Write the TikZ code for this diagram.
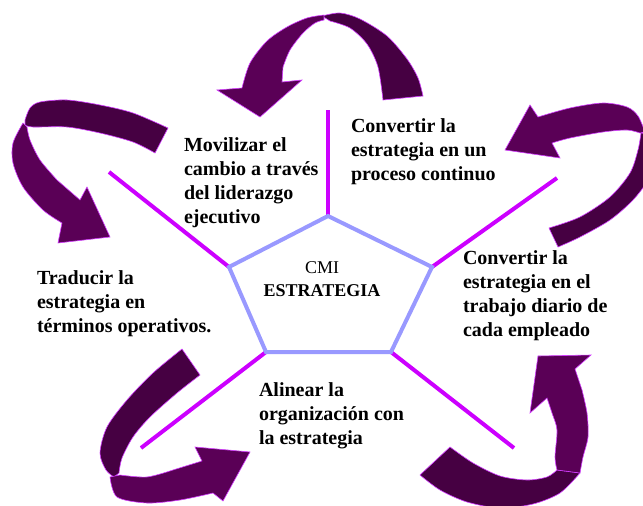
\documentclass[tikz,border=0pt]{standalone}
\usepackage{fontspec}
\setmainfont{Liberation Serif}
\definecolor{spokecol}{RGB}{204,0,255}
\definecolor{rimcol}{RGB}{153,153,255}
\definecolor{tailcol}{RGB}{70,0,66}
\definecolor{headcol}{RGB}{90,0,86}
\definecolor{edgecol}{RGB}{210,60,255}

\begin{document}
\begin{tikzpicture}[x=1pt, y=-1pt, line width=4pt,
    lbl/.style={anchor=base west, align=left, inner sep=0pt,
        font=\fontsize{20}{24}\selectfont\bfseries},
    bandtail/.style={fill=tailcol, draw=edgecol, line width=.6pt},
    bandhead/.style={fill=headcol, draw=edgecol, line width=.6pt}]

    \useasboundingbox (0, 0) rectangle (643, 506);
    \clip (0, 0) rectangle (643, 506);

    \coordinate (P1) at (328, 216);
    \coordinate (P2) at (432, 267);
    \coordinate (P3) at (391, 352);
    \coordinate (P4) at (266, 352);
    \coordinate (P5) at (229, 267);

    \coordinate (Q1) at (328, 110);
    \coordinate (Q2) at (557, 178);
    \coordinate (Q3) at (514, 448);
    \coordinate (Q4) at (141, 448);
    \coordinate (Q5) at (109, 172);

    \foreach \i in {1, 2, 3, 4, 5}
        \draw [spokecol] (P\i) -- (Q\i);

    \draw [rimcol] (P1) -- (P2) -- (P3) -- (P4) -- (P5) -- cycle;

    % top arrow
    \draw [bandtail] plot [smooth] coordinates {(322, 16) (340, 13) (360, 19) (387, 36) (407, 59) (418, 78) (423, 96)}
        -- plot [smooth] coordinates {(383, 100) (378, 67) (367, 44) (350, 28) (330, 21)} -- cycle;
    \draw [bandhead] plot [smooth] coordinates {(324, 15) (307, 18) (287, 27) (267, 41) (250, 63) (242, 88)}
        -- (217, 90) -- (260, 117) -- (302, 80) -- (282, 82)
        -- plot [smooth] coordinates {(283, 67) (290, 50) (303, 33) (315, 23) (324, 20)} -- cycle;

    % left arrow
    \draw [bandtail] plot [smooth] coordinates {(25, 120) (30, 108) (40, 102) (67, 100) (100, 105) (133, 113) (168, 128)}
        -- plot [smooth] coordinates {(155, 153) (133, 142) (100, 133) (67, 127) (33, 127) (25, 125)} -- cycle;
    \draw [bandhead] plot [smooth] coordinates {(23, 123) (13, 143) (13, 163) (23, 187) (43, 210) (62, 223)}
        -- (58, 243) -- (110, 237) -- (87, 187) -- (80, 200)
        -- plot [smooth] coordinates {(57, 180) (40, 160) (30, 140) (27, 127)} -- cycle;

    % right arrow
    \draw [bandtail] plot [smooth] coordinates {(641, 133) (638, 150) (630, 173) (610, 197) (580, 217) (549, 228)}
        -- plot [smooth] coordinates {(558, 247) (580, 237) (610, 220) (633, 200) (648, 180) (655, 160) (655, 135)} -- cycle;
    \draw [bandhead] (505, 150) -- (530, 105)
        -- plot [smooth] coordinates {(538, 117) (570, 108) (603, 103) (627, 107) (638, 116) (645, 132)}
        -- plot [smooth] coordinates {(640, 133) (627, 130) (603, 132) (570, 138) (552, 143)}
        -- (560, 158) -- cycle;

    % bottom left arrow
    \draw [bandtail] plot [smooth] coordinates {(182, 349) (153, 373) (127, 400) (107, 427) (100, 453) (106, 470) (114, 477)}
        -- plot [smooth] coordinates {(119, 473) (122, 458) (133, 437) (150, 417) (177, 393) (200, 375)} -- cycle;
    \draw [bandhead] plot [smooth] coordinates {(110, 477) (117, 497) (147, 503) (180, 500) (213, 493)}
        -- (223, 501) -- (250, 452) -- (195, 447) -- (202, 461)
        -- plot [smooth] coordinates {(173, 470) (147, 477) (120, 475)} -- cycle;

    % bottom right arrow
    \draw [bandtail] plot [smooth] coordinates {(450, 447) (473, 463) (500, 476) (527, 480) (547, 477) (557, 470)}
        -- plot [smooth] coordinates {(580, 473) (560, 493) (533, 504) (500, 508) (467, 502) (440, 490) (420, 475)} -- cycle;
    \draw [bandhead] plot [smooth] coordinates {(557, 470) (555, 457) (557, 430) (552, 413) (547, 398)}
        -- (530, 413) -- (538, 356) -- (591, 355) -- (575, 369)
        -- plot [smooth] coordinates {(582, 390) (587, 413) (588, 437) (583, 457) (580, 473)} -- cycle;

    \node (cmi) [anchor=base, inner sep=0pt, font=\fontsize{18}{20}\selectfont] at (322, 273) {CMI};
    \node (estrategia) [anchor=base, inner sep=0pt, font=\fontsize{18}{20}\selectfont\bfseries] at (322, 296) {ESTRATEGIA};

    % base = last line
    \node (movilizar) [lbl] at (182, 223) {Movilizar el\\cambio a través\\del liderazgo\\ejecutivo};
    \node (proceso) [lbl] at (349, 180) {Convertir la\\estrategia en un\\proceso continuo};
    \node (trabajo) [lbl] at (461, 336) {Convertir la\\estrategia en el\\trabajo diario de\\cada empleado};
    \node (traducir) [lbl] at (35, 332) {Traducir la\\estrategia en\\términos operativos.};
    \node (alinear) [lbl] at (257, 444) {Alinear la\\organización con\\la estrategia};
\end{tikzpicture}
\end{document}
